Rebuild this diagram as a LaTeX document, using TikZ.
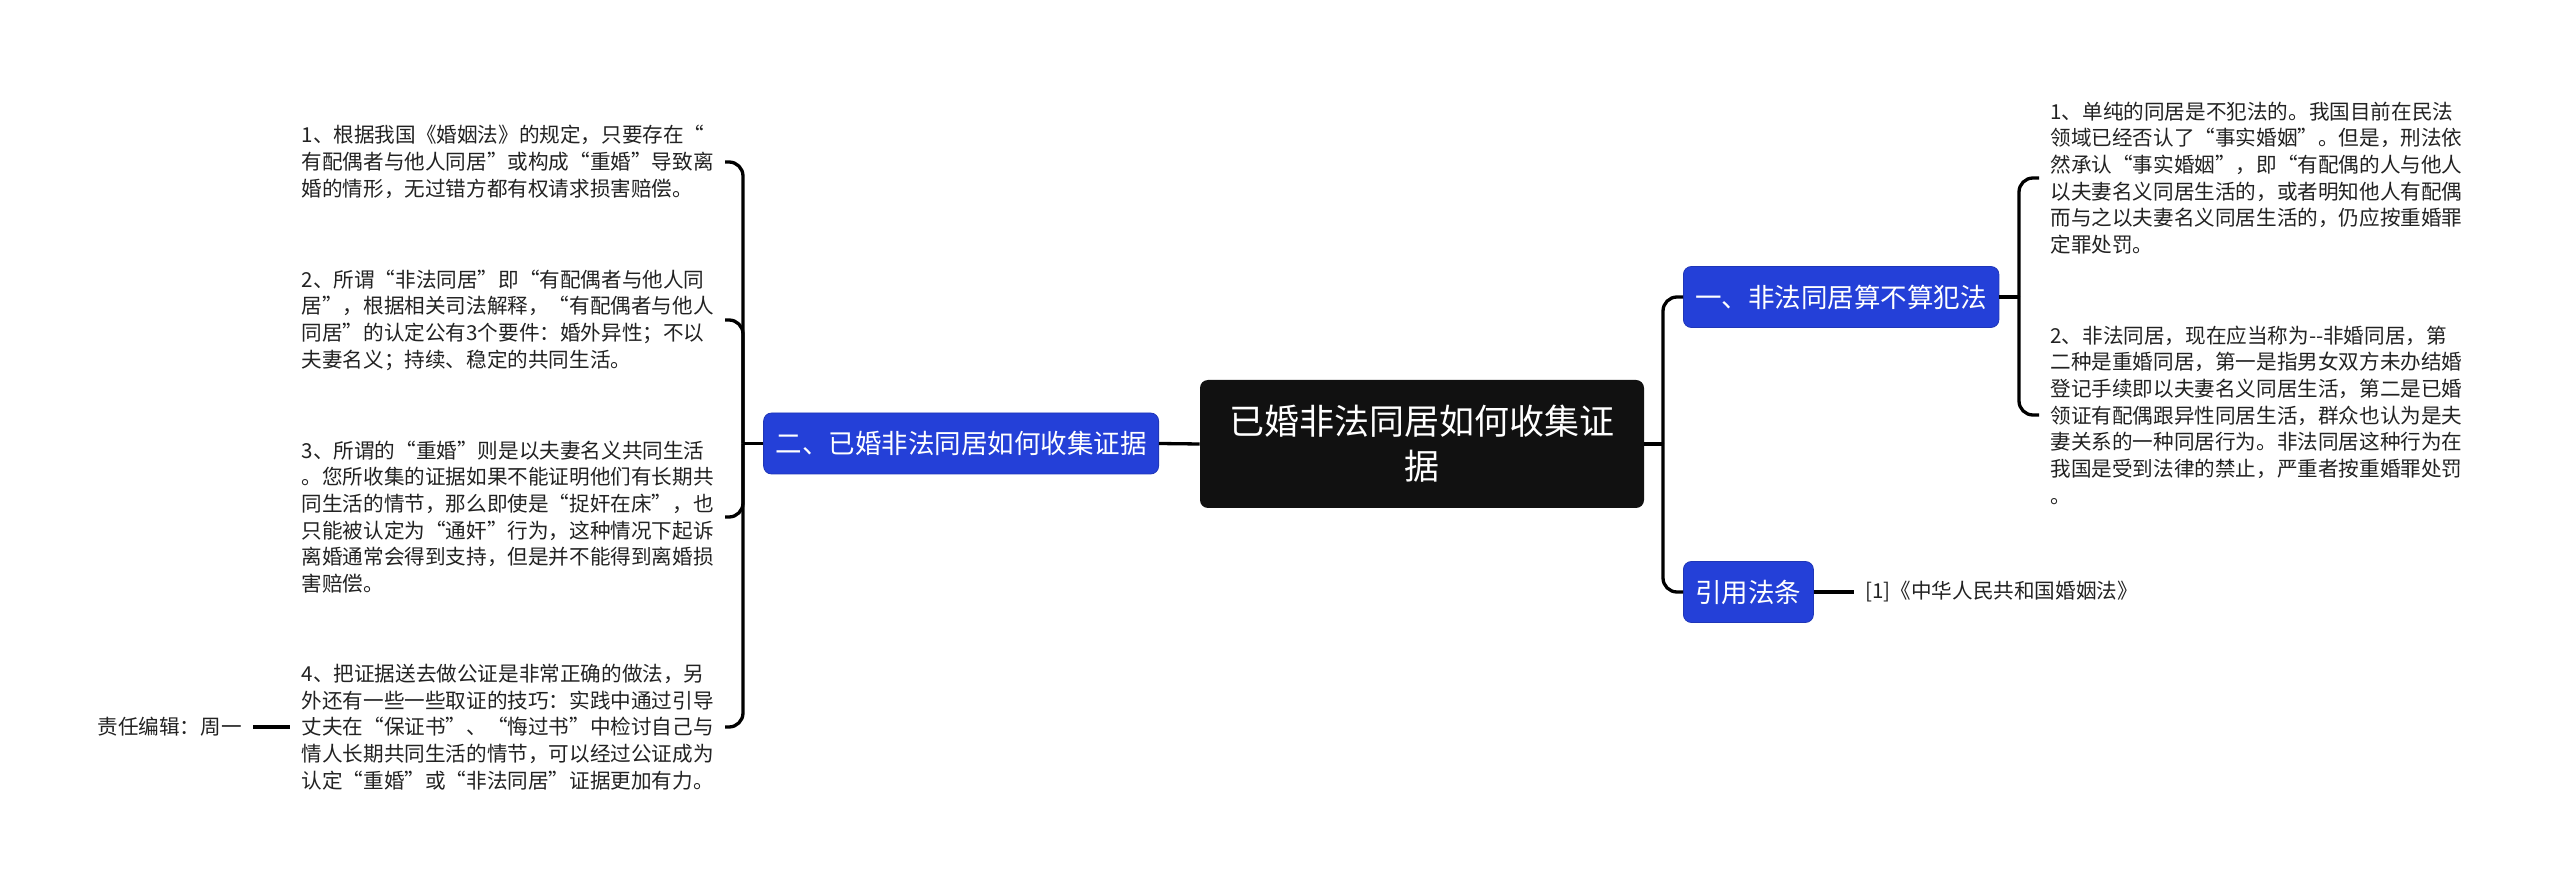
\documentclass[tikz,border=0pt]{standalone}
\usepackage{fontspec}
\setmainfont{Noto Sans CJK SC}
\definecolor{bluebox}{HTML}{2440D8}
\definecolor{darkbox}{HTML}{111111}
\definecolor{txt}{HTML}{222222}
\begin{document}
\begin{tikzpicture}[x=0.5pt,y=-0.5pt,
 conn/.style={line width=1.65pt, black},
 elbow/.style={conn, rounded corners=7pt},
 rootbox/.style={fill=darkbox, rounded corners=4pt, text=white, minimum width=222pt, minimum height=64pt, align=center, font=\fontsize{17.5}{22.5}\selectfont, inner sep=0pt},
 branch/.style={fill=bluebox, draw=bluebox!85!black, line width=0.4pt, rounded corners=4pt, text=white, minimum height=30.5pt, inner xsep=6pt, inner ysep=0pt, font=\fontsize{13.25}{16}\selectfont},
 leaf/.style={text=txt, align=left, text width=206pt, inner xsep=5.5pt, inner ysep=0pt, font=\fontsize{10.3}{13.35}\selectfont},
 plain/.style={text=txt, inner xsep=5.5pt, inner ysep=0pt, font=\fontsize{10.3}{13.35}\selectfont},
]
\useasboundingbox (0,0) rectangle (2560,892);

\node[rootbox] (root) at (1422,444) {已婚非法同居如何收集证\\据};

\node[branch, anchor=east] (b2) at (1159,443.5) {二、已婚非法同居如何收集证据};
\node[branch, anchor=west] (b1) at (1683,297) {一、非法同居算不算犯法};
\node[branch, anchor=west] (b3) at (1683,592) {引用法条};

\node[leaf, anchor=east] (l1) at (725,162) {1、根据我国《婚姻法》的规定，只要存在“\\有配偶者与他人同居”或构成“重婚”导致离\\婚的情形，无过错方都有权请求损害赔偿。};
\node[leaf, anchor=east] (l2) at (725,320) {2、所谓“非法同居”即“有配偶者与他人同\\居”，根据相关司法解释，“有配偶者与他人\\同居”的认定公有3个要件：婚外异性；不以\\夫妻名义；持续、稳定的共同生活。};
\node[leaf, anchor=east] (l3) at (725,517) {3、所谓的“重婚”则是以夫妻名义共同生活\\。您所收集的证据如果不能证明他们有长期共\\同生活的情节，那么即使是“捉奸在床”，也\\只能被认定为“通奸”行为，这种情况下起诉\\离婚通常会得到支持，但是并不能得到离婚损\\害赔偿。};
\node[leaf, anchor=east] (l4) at (725,727) {4、把证据送去做公证是非常正确的做法，另\\外还有一些一些取证的技巧：实践中通过引导\\丈夫在“保证书”、“悔过书”中检讨自己与\\情人长期共同生活的情节，可以经过公证成为\\认定“重婚”或“非法同居”证据更加有力。};

\node[plain, anchor=east] (ed) at (253,727) {责任编辑：周一};

\node[leaf, anchor=west] (r1) at (2039,178) {1、单纯的同居是不犯法的。我国目前在民法\\领域已经否认了“事实婚姻”。但是，刑法依\\然承认“事实婚姻”，即“有配偶的人与他人\\以夫妻名义同居生活的，或者明知他人有配偶\\而与之以夫妻名义同居生活的，仍应按重婚罪\\定罪处罚。};
\node[leaf, anchor=west] (r2) at (2039,415) {2、非法同居，现在应当称为-{}-非婚同居，第\\二种是重婚同居，第一是指男女双方未办结婚\\登记手续即以夫妻名义同居生活，第二是已婚\\领证有配偶跟异性同居生活，群众也认为是夫\\妻关系的一种同居行为。非法同居这种行为在\\我国是受到法律的禁止，严重者按重婚罪处罚\\。};

\node[plain, anchor=west] (ref) at (1854,592) {[1]《中华人民共和国婚姻法》};

% connectors
\coordinate (jl) at (743,443.5);
\draw[conn] (root.west) -- (b2.east);
\draw[conn] (b2.west) -- (jl);
\foreach \n in {l1,l2,l3,l4} \draw[elbow] (jl) |- (\n.east);
\draw[conn] (ed.east) -- (l4.west);

\coordinate (jr) at (1663,444);
\draw[conn] (root.east) -- (jr);
\draw[elbow] (jr) |- (b1.west);
\draw[elbow] (jr) |- (b3.west);

\coordinate (j1) at (2019,297);
\draw[conn] (b1.east) -- (j1);
\draw[elbow] (j1) |- (r1.west);
\draw[elbow] (j1) |- (r2.west);
\draw[conn] (b3.east) -- (ref.west);
\end{tikzpicture}
\end{document}
